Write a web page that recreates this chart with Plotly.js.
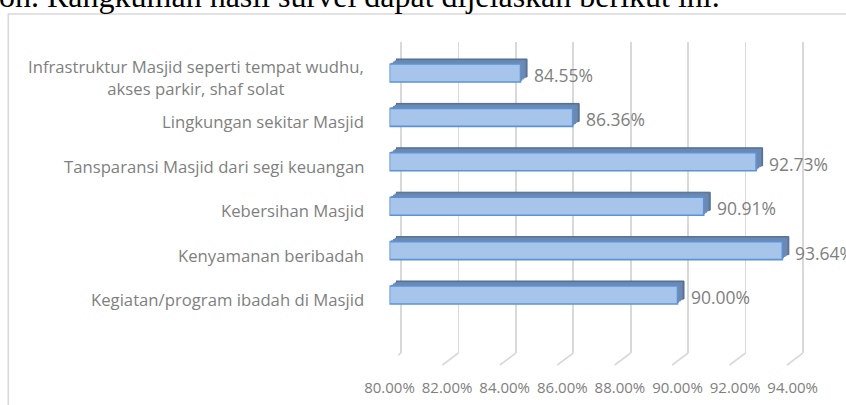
<!DOCTYPE html>
<html>
<head>
<meta charset="utf-8">
<script src="https://cdn.plot.ly/plotly-3.0.1.min.js"></script>
<style>html,body{margin:0;padding:0;background:#fff;}#chart{width:846px;height:405px;}</style>
</head>
<body>
<div id="chart"></div>
<script>
// ---- data ----
const categories = [
  "Kegiatan/program ibadah di Masjid",
  "Kenyamanan beribadah",
  "Kebersihan Masjid",
  "Tansparansi Masjid dari segi keuangan",
  "Lingkungan sekitar Masjid",
  "Infrastruktur Masjid seperti tempat wudhu,<br>akses parkir, shaf solat"
];
const values = [90.00, 93.64, 90.91, 92.73, 86.36, 84.55];
const valueLabels = ["90.00%", "93.64%", "90.91%", "92.73%", "86.36%", "84.55%"];
const xTicks = [80, 82, 84, 86, 88, 90, 92, 94];
const xTickLabels = ["80.00%", "82.00%", "84.00%", "86.00%", "88.00%", "90.00%", "92.00%", "94.00%"];
const headerText = "on. Rangkuman hasil survei dapat dijelaskan berikut ini.";

// ---- geometry helpers ----
const W = 846, H = 405;
const fx = p => p / W;
const fy = p => 1 - p / H;
const FONT = "Open Sans, Noto Sans, sans-serif";

const xMin = 80, xMax = 94;
const pxPerUnit = 28.8;
const frontLeft = 389.5;
const frontDomX = [frontLeft, frontLeft + (xMax - xMin) * pxPerUnit];
const frontDomY = [50, 340]; // top, bottom px
const yRange = [-1.0135, 5.518];

const N = 4;          // shadow layers for the 3D extrusion
const depthX = 6.5, depthY = -5;

const traces = [];
const layout = {
  width: W, height: H,
  margin: {l: 0, r: 0, t: 0, b: 0},
  paper_bgcolor: "#ffffff",
  plot_bgcolor: "rgba(0,0,0,0)",
  showlegend: false,
  bargap: 0.595,
  font: {family: FONT, color: "#7f7f7f"},
  shapes: [],
  annotations: []
};

// back wall grid (subplot xy)
const pxu = 28.7;
layout.xaxis = {
  domain: [fx(401 - 0.1 * pxu), fx(803 + 0.1 * pxu)],
  range: [79.9, 94.1], tickvals: xTicks, showticklabels: false,
  showgrid: true, gridcolor: "#d9d9d9", gridwidth: 1.6,
  zeroline: false, showline: false, ticks: "", anchor: "y", fixedrange: true
};
layout.yaxis = {
  domain: [fy(353), fy(42)], range: [0, 1], showgrid: false, zeroline: false,
  showticklabels: false, showline: false, ticks: "", anchor: "x", fixedrange: true
};
traces.push({type: "scatter", x: [], y: [], xaxis: "x", yaxis: "y", hoverinfo: "skip"});

// floor diagonals
xTicks.forEach(v => {
  layout.shapes.push({
    type: "line", xref: "x", xsizemode: "pixel", xanchor: v, x0: 0, x1: -16,
    yref: "paper", ysizemode: "pixel", yanchor: fy(353), y0: 0, y1: -12,
    line: {color: "#d9d9d9", width: 1.6}, layer: "below"
  });
});

// shadow layers (deepest first)
for (let k = N; k >= 1; k--) {
  const idx = 2 + (N - k);
  const t = k / N;
  const dx = depthX * t, dy = depthY * t;
  layout["xaxis" + idx] = {
    domain: [fx(frontDomX[0] + dx), fx(frontDomX[1] + dx)], range: [xMin, xMax],
    visible: false, anchor: "y" + idx, fixedrange: true
  };
  layout["yaxis" + idx] = {
    domain: [fy(frontDomY[1] + dy), fy(frontDomY[0] + dy)], range: yRange,
    type: "category", categoryorder: "array", categoryarray: categories,
    visible: false, anchor: "x" + idx, fixedrange: true
  };
  traces.push({
    type: "bar", orientation: "h", y: categories, x: values.map(v => v - xMin), base: xMin,
    xaxis: "x" + idx, yaxis: "y" + idx, hoverinfo: "skip",
    marker: {color: k === N ? "#5d7aa3" : "#6e89b0", line: {color: k === N ? "#4f6b94" : "#6e89b0", width: k === N ? 1 : 0}}
  });
}

// front bars
const F = 2 + N;
layout["xaxis" + F] = {
  domain: [fx(frontDomX[0]), fx(frontDomX[1])], range: [xMin, xMax],
  tickvals: xTicks, ticktext: xTickLabels, showgrid: false, zeroline: false, showline: false,
  ticks: "", tickfont: {family: FONT, size: 15, color: "#808080"},
  ticklabelshift: -4.5, ticklabelstandoff: 37, anchor: "y" + F, fixedrange: true
};
layout["yaxis" + F] = {
  domain: [fy(frontDomY[1]), fy(frontDomY[0])], range: yRange,
  type: "category", categoryorder: "array", categoryarray: categories,
  showticklabels: false, showgrid: false, zeroline: false, showline: false, ticks: "",
  anchor: "x" + F, fixedrange: true
};
traces.push({
  type: "bar", orientation: "h", y: categories, x: values.map(v => v - xMin), base: xMin,
  xaxis: "x" + F, yaxis: "y" + F, hovertemplate: "%{y}: %{customdata}<extra></extra>",
  customdata: valueLabels,
  marker: {color: "#a7c4ea", line: {color: "#5b94d6", width: 1.6}}
});

// value labels
values.forEach((v, i) => {
  layout.annotations.push({
    x: v, y: categories[i], xref: "x" + F, yref: "y" + F,
    text: valueLabels[i], showarrow: false, xanchor: "left", yanchor: "middle",
    xshift: 11, yshift: -2, font: {family: FONT, size: 17.5, color: "#7f7f7f"}
  });
});

// category labels
categories.forEach((c, i) => {
  layout.annotations.push({
    x: fx(366), xref: "paper", y: c, yref: "y" + F,
    text: c, showarrow: false, xanchor: "right", yanchor: "middle", align: "center",
    yshift: -4.5, font: {family: FONT, size: 16.7, color: "#7f7f7f"}
  });
});

// header text from the surrounding document (cut off at top)
layout.annotations.push({
  x: fx(-3), xref: "paper", y: fy(-4.5), yref: "paper", xanchor: "left", yanchor: "middle",
  text: headerText, showarrow: false,
  font: {family: "Liberation Serif, DejaVu Serif, serif", size: 32, color: "#000000"}
});

// chart frame
layout.shapes.push({
  type: "rect", xref: "paper", yref: "paper",
  x0: fx(8.3), x1: 1.05, y0: -0.05, y1: fy(14),
  line: {color: "#d9d9d9", width: 1.6}, fillcolor: "rgba(0,0,0,0)", layer: "below"
});

Plotly.newPlot("chart", traces, layout, {displayModeBar: false, staticPlot: true});
</script>
</body>
</html>
